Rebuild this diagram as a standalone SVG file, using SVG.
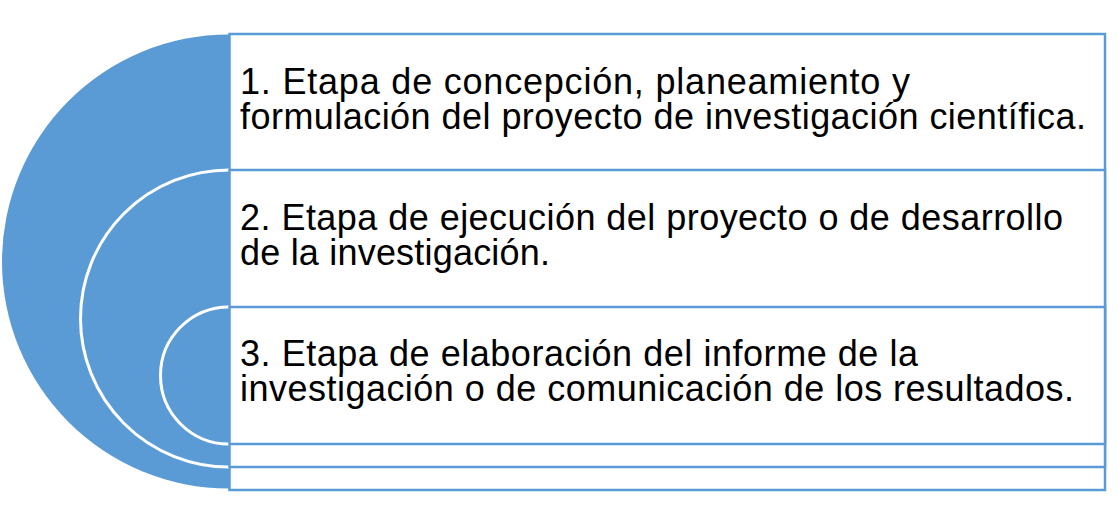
<svg xmlns="http://www.w3.org/2000/svg" width="1118" height="532" viewBox="0 0 1118 532">
<style>
.disk{fill:#5B9BD5;stroke:none}
.arc{fill:none;stroke:#FFFFFF;stroke-width:3}
.box{fill:#FFFFFF;stroke:#5B9BD5;stroke-width:2.5}
.t{font-family:"Liberation Sans",Arial,sans-serif;font-size:36px;fill:#000000}
</style>
<rect x="0" y="0" width="1118" height="532" fill="#FFFFFF"/>
<g id="node1">
<path class="disk" d="M229,34.5 A227,227 0 0 0 229,488.5 Z"/>
<rect class="box" x="229.5" y="34" width="875.5" height="456"/>
<text class="t"><tspan x="240" y="93.5" textLength="670" lengthAdjust="spacing">1. Etapa de concepción, planeamiento y</tspan><tspan x="240" y="128.5" textLength="846" lengthAdjust="spacing">formulación del proyecto de investigación científica.</tspan></text>
</g>
<g id="node2">
<path class="disk" d="M229,170 A148.5,148.5 0 0 0 229,467 Z"/>
<path class="arc" d="M229,170 A148.5,148.5 0 0 0 229,467"/>
<rect class="box" x="229.5" y="170" width="875.5" height="297"/>
<text class="t"><tspan x="240" y="230" textLength="823" lengthAdjust="spacing">2. Etapa de ejecución del proyecto o de desarrollo</tspan><tspan x="240" y="265" textLength="310" lengthAdjust="spacing">de la investigación.</tspan></text>
</g>
<g id="node3">
<path class="disk" d="M229,307 A68.5,68.5 0 0 0 229,444 Z"/>
<path class="arc" d="M229,307 A68.5,68.5 0 0 0 229,444"/>
<rect class="box" x="229.5" y="307" width="875.5" height="137"/>
<text class="t"><tspan x="240" y="366" textLength="678" lengthAdjust="spacing">3. Etapa de elaboración del informe de la</tspan><tspan x="240" y="400.5" textLength="834" lengthAdjust="spacing">investigación o de comunicación de los resultados.</tspan></text>
</g>
<g id="connectors"/>
</svg>
